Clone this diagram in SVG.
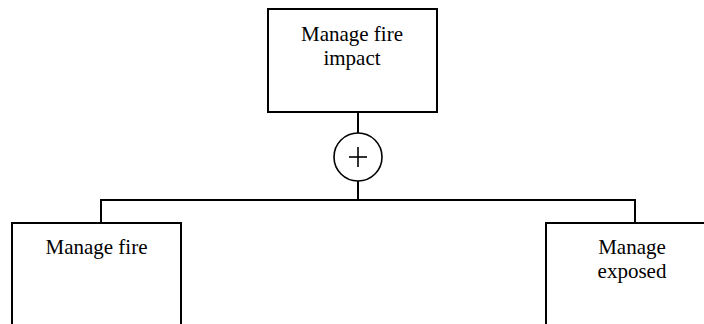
<svg xmlns="http://www.w3.org/2000/svg" width="704" height="324" viewBox="0 0 704 324">
  <style>
    .box { fill: #ffffff; stroke: #000000; stroke-width: 2; }
    .wire { fill: none; stroke: #000000; stroke-width: 2; }
    .gate { fill: #ffffff; stroke: #000000; stroke-width: 1.6; }
    .label { font-family: "Liberation Serif", "Times New Roman", serif; font-size: 21px; fill: #000000; text-anchor: middle; }
  </style>
  <rect width="704" height="324" fill="#ffffff"/>

  <!-- connectors: parent to OR gate, gate to children -->
  <g id="connectors">
    <line class="wire" x1="358" y1="112" x2="358" y2="133"/>
    <line class="wire" x1="358" y1="181" x2="358" y2="200"/>
    <polyline class="wire" points="101,223 101,200 635,200 635,223"/>
  </g>

  <!-- parent goal -->
  <g id="node-manage-fire-impact">
    <rect class="box" x="268" y="9" width="169" height="103"/>
    <text class="label" x="352" y="40.5">Manage fire</text>
    <text class="label" x="352" y="64.5">impact</text>
  </g>

  <!-- OR decomposition gate -->
  <g id="gate-or">
    <circle class="gate" cx="358" cy="157" r="24"/>
    <line class="gate" x1="349" y1="157" x2="367" y2="157"/>
    <line class="gate" x1="358" y1="147" x2="358" y2="167"/>
  </g>

  <!-- child goals (extend past the lower edge) -->
  <g id="node-manage-fire">
    <rect class="box" x="12" y="223" width="169" height="120"/>
    <text class="label" x="96.5" y="254">Manage fire</text>
  </g>

  <g id="node-manage-exposed">
    <rect class="box" x="546" y="223" width="172" height="120"/>
    <text class="label" x="632" y="254">Manage</text>
    <text class="label" x="632" y="278">exposed</text>
  </g>
</svg>
